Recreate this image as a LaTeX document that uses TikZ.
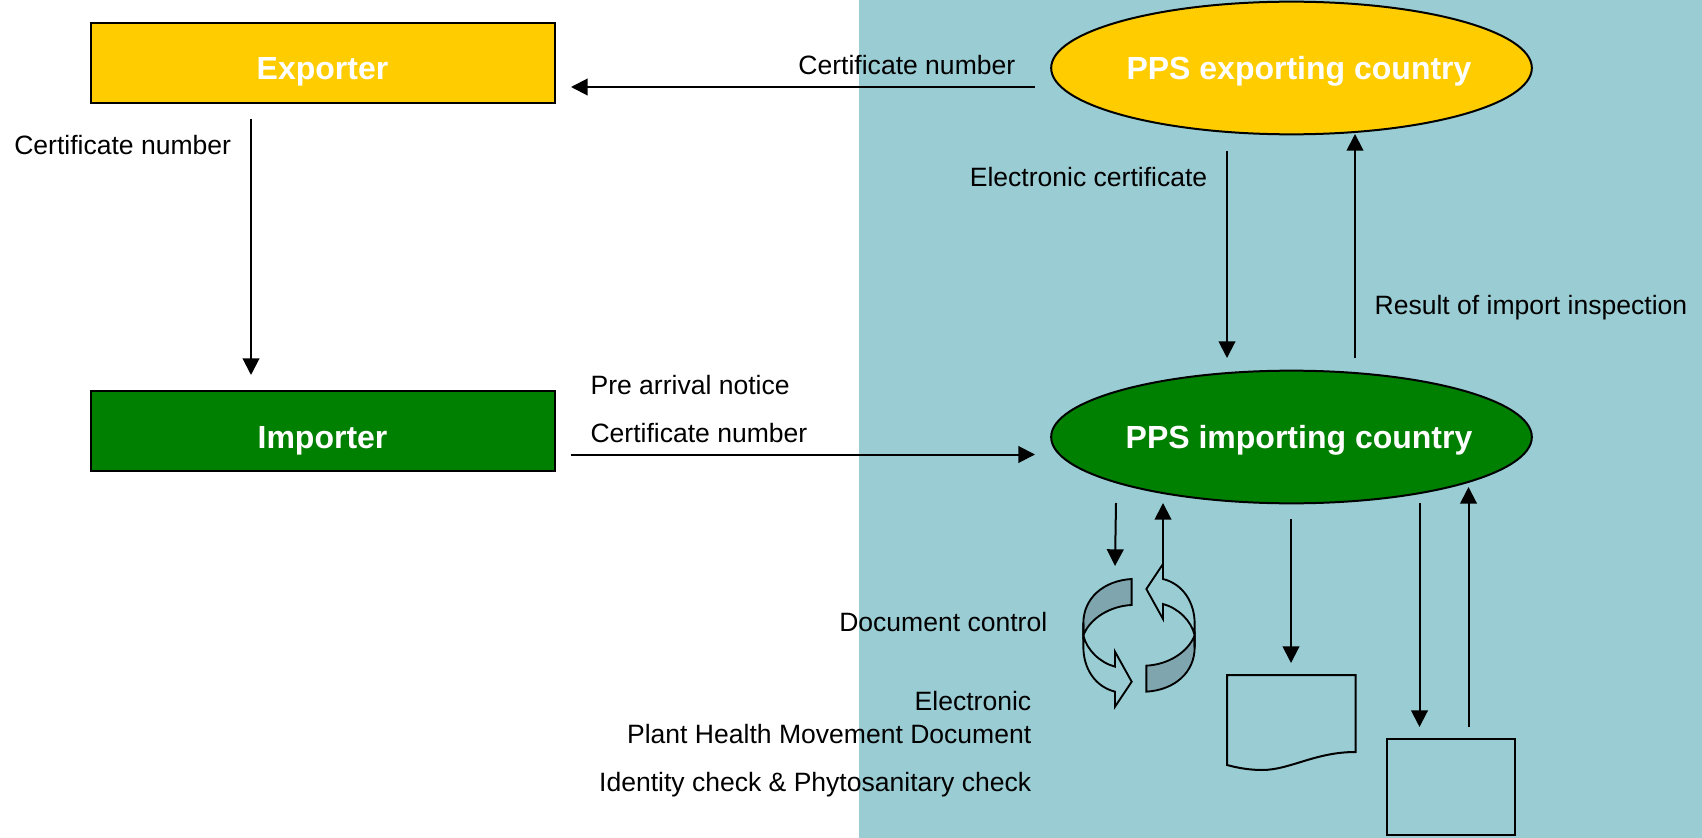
\documentclass[tikz,border=0pt]{standalone}
\usepackage{fontspec}
\setmainfont{Liberation Sans}
\usetikzlibrary{arrows.meta,shapes.geometric}
\definecolor{panelblue}{HTML}{9ACCD4}
\definecolor{goldfill}{HTML}{FFCC00}
\definecolor{greenfill}{HTML}{008000}
\definecolor{arrowgray}{HTML}{7FA6AE}
\newcommand{\cyclearrow}{%
  \begin{scope}[x=0.25pt,y=-0.25pt,shift={(-297,-436)}]
    \path[curveline,fill=arrowgray] (275,267) .. controls (190,272) and (130,325) .. (130,400) -- (130,436) .. controls (150,385) and (210,348) .. (275,345) -- cycle;
    \path[curveline] (130,400) -- (130,470) .. controls (130,535) and (165,590) .. (225,605) -- (225,650) -- (275,575) -- (225,485) -- (225,530) .. controls (180,518) and (140,480) .. (130,436);
  \end{scope}}
\tikzset{
  outline/.style={draw=black,line width=1.5pt},
  curveline/.style={draw=black,line width=1.4pt,line join=miter},
  boxnode/.style={outline,minimum width=348pt,minimum height=60pt,inner sep=0pt},
  ovalnode/.style={outline,ellipse,minimum width=360.5pt,minimum height=99.5pt,inner sep=0pt},
  headtext/.style={text=white,font=\fontsize{24}{28}\selectfont\bfseries},
  lab/.style={text=black,font=\fontsize{19.9}{24}\selectfont,inner sep=0pt},
  conn/.style={draw=black,line width=1.5pt,-{Triangle[length=12.5pt,width=12.5pt]}}
}
\begin{document}
\begin{tikzpicture}[x=0.75pt,y=-0.75pt]
\useasboundingbox (0,0) rectangle (1702,838);
\fill[white] (0,0) rectangle (1702,838);
\fill[panelblue] (859,0) rectangle (1702,838);

\node[boxnode,fill=goldfill] (exporter) at (323,63) {};
\node[boxnode,fill=greenfill] (importer) at (323,431) {};
\node[ovalnode,fill=goldfill] (ppsexp) at (1291.5,68) {};
\node[ovalnode,fill=greenfill] (ppsimp) at (1291.5,437) {};
\node[headtext,anchor=base] (exporterlabel) at (322.5,80) {Exporter};
\node[headtext,anchor=base] (importerlabel) at (322.5,448.5) {Importer};
\node[headtext,anchor=base] (ppsexplabel) at (1299,80) {PPS exporting country};
\node[headtext,anchor=base] (ppsimplabel) at (1299,448.5) {PPS importing country};

% document and check boxes
\path[outline,line join=miter] (1227,675) -- (1355.5,675) -- (1355.5,752) .. controls (1315,752) and (1290,770) .. (1262,770) .. controls (1250,770) and (1238,768) .. (1227,765) -- cycle;
\node[outline,minimum width=96pt,minimum height=72pt,inner sep=0pt] (checkbox) at (1451,787) {};

% cycle arrows
\begin{scope}[shift={(1139,635.33)}]\cyclearrow\end{scope}
\begin{scope}[shift={(1139,635.33)},rotate=180]\cyclearrow\end{scope}

% connector end points
\coordinate (a1) at (1035,87); \coordinate (a2) at (571,87);
\coordinate (b1) at (251,119); \coordinate (b2) at (251,375);
\coordinate (c1) at (571,454.5); \coordinate (c2) at (1035,454.5);
\coordinate (d1) at (1227,151); \coordinate (d2) at (1227,358);
\coordinate (e1) at (1355,358); \coordinate (e2) at (1355,134);
\coordinate (f1) at (1116,503); \coordinate (f2) at (1115,566);
\coordinate (g1) at (1163,567); \coordinate (g2) at (1163,503);
\coordinate (h1) at (1291,519); \coordinate (h2) at (1291,663);
\coordinate (i1) at (1419.5,503); \coordinate (i2) at (1419.5,727);
\coordinate (j1) at (1468.5,727); \coordinate (j2) at (1468.5,487);
\foreach \s/\t in {a1/a2,b1/b2,c1/c2,d1/d2,e1/e2,f1/f2,g1/g2,h1/h2,i1/i2,j1/j2}
  \draw[conn] (\s) -- (\t);

% labels
\node[lab,anchor=base east] (l1) at (1015.5,74.7) {Certificate number};
\node[lab,anchor=base west] (l2) at (14,154.7) {Certificate number};
\node[lab,anchor=base east] (l3) at (1207.5,186.5) {Electronic certificate};
\node[lab,anchor=base east] (l4) at (1687.5,314.5) {Result of import inspection};
\node[lab,anchor=base west] (l5) at (590.3,394.3) {Pre arrival notice};
\node[lab,anchor=base west] (l6) at (590.3,442.3) {Certificate number};
\node[lab,anchor=base east] (l7) at (1047.5,631.3) {Document control};
\node[lab,anchor=base east] (l8) at (1031.5,710.3) {Electronic};
\node[lab,anchor=base east] (l9) at (1031.5,743.3) {Plant Health Movement Document};
\node[lab,anchor=base east] (l10) at (1031.5,791.3) {Identity check \& Phytosanitary check};
\end{tikzpicture}
\end{document}
